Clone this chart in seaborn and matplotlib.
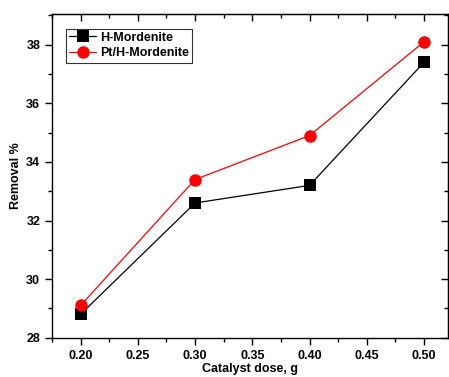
import numpy as np
import pandas as pd
import seaborn as sns
import matplotlib.pyplot as plt
from matplotlib.ticker import MultipleLocator

# dados
dose = [0.20, 0.30, 0.40, 0.50]
h_mordenite = [28.8, 32.6, 33.2, 37.4]
pt_h_mordenite = [29.1, 33.4, 34.9, 38.1]
series = ["H-Mordenite", "Pt/H-Mordenite"]

df = pd.DataFrame({
    "dose": dose * 2,
    "removal": h_mordenite + pt_h_mordenite,
    "amostra": [series[0]] * 4 + [series[1]] * 4,
})

sns.set_style("ticks")
plt.rcParams['font.family'] = ['Liberation Sans', 'DejaVu Sans']
plt.rcParams['font.weight'] = 'bold'
plt.rcParams['text.color'] = 'black'
plt.rcParams['axes.labelcolor'] = 'black'
plt.rcParams['xtick.color'] = 'black'
plt.rcParams['ytick.color'] = 'black'
plt.rcParams['axes.edgecolor'] = 'black'

fig = plt.figure(figsize=(4.49, 3.77), dpi=100)
ax = fig.add_axes([0.1158, 0.1042, 0.882, 0.8586])

sns.lineplot(data=df, x="dose", y="removal", hue="amostra", style="amostra",
             palette={series[0]: "black", series[1]: "red"},
             markers={series[0]: "s", series[1]: "o"},
             dashes=False, markersize=9, markeredgewidth=0, linewidth=0.9,
             ax=ax)

ax.set_xlim(0.175, 0.521)
ax.set_ylim(28, 39.05)
ax.set_xticks([0.20, 0.25, 0.30, 0.35, 0.40, 0.45, 0.50])
ax.set_xticklabels(["0.20", "0.25", "0.30", "0.35", "0.40", "0.45", "0.50"])
ax.xaxis.set_minor_locator(MultipleLocator(0.025))
ax.yaxis.set_major_locator(MultipleLocator(2))
ax.yaxis.set_minor_locator(MultipleLocator(1))

ax.tick_params(which='both', direction='out', width=1, labelsize=9)
ax.tick_params(which='major', length=5)
ax.tick_params(which='minor', length=3)
for s in ax.spines.values():
    s.set_linewidth(1)

# ticks espelhados (topo e direita) para dentro, sem rótulos
topo = ax.secondary_xaxis('top')
topo.set_xticks([0.20, 0.25, 0.30, 0.35, 0.40, 0.45, 0.50])
topo.xaxis.set_minor_locator(MultipleLocator(0.025))
topo.tick_params(which='both', direction='in', width=1, labeltop=False)
topo.tick_params(which='major', length=5)
topo.tick_params(which='minor', length=3)
direita = ax.secondary_yaxis('right')
direita.yaxis.set_major_locator(MultipleLocator(2))
direita.yaxis.set_minor_locator(MultipleLocator(1))
direita.tick_params(which='both', direction='in', width=1, labelright=False)
direita.tick_params(which='major', length=5)
direita.tick_params(which='minor', length=3)

ax.set_xlabel("Catalyst dose, g", fontsize=9, fontweight='bold', labelpad=1)
ax.set_ylabel("Removal %", fontsize=9, fontweight='bold', labelpad=3)

leg = ax.legend(loc='upper left', bbox_to_anchor=(0.035, 0.955), fontsize=9,
                frameon=True, fancybox=False, edgecolor='black',
                handlelength=2.2, borderpad=0.25, labelspacing=0.3,
                handletextpad=0.3, borderaxespad=0)
leg.get_frame().set_linewidth(0.8)
for t in leg.get_texts():
    t.set_fontweight('bold')

fig.savefig("out.png", dpi=100)
